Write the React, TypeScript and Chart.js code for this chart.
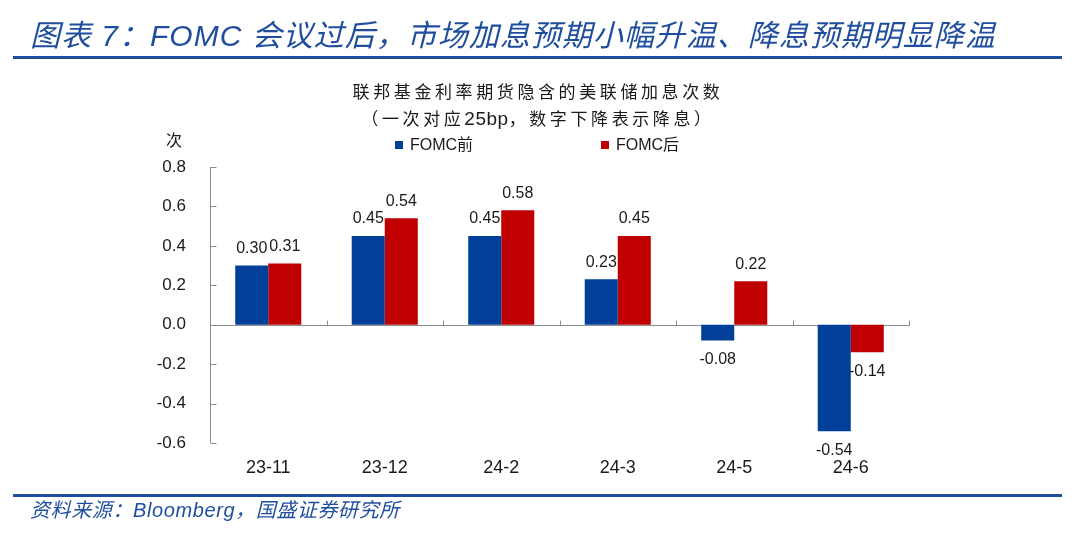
import React, { useEffect, useRef } from "react";
import { Chart, registerables } from "chart.js";

Chart.register(...registerables);

const categories = ["23-11", "23-12", "24-2", "24-3", "24-5", "24-6"];
const beforeFOMC = [0.3, 0.45, 0.45, 0.23, -0.08, -0.54];
const afterFOMC = [0.31, 0.54, 0.58, 0.45, 0.22, -0.14];
const seriesNames = ["FOMC前", "FOMC后"];
const seriesColors = ["#00409A", "#C00000"];
const yMin = -0.6;
const yMax = 0.8;
const yStep = 0.2;

const figureTitle = "图表 7：FOMC 会议过后，市场加息预期小幅升温、降息预期明显降温";
const chartTitle1 = "联邦基金利率期货隐含的美联储加息次数";
const chartTitle2a = "（一次对应";
const chartTitle2b = "25bp";
const chartTitle2c = "，数字下降表示降息）";
const yUnit = "次";
const sourceText = "资料来源：Bloomberg，国盛证券研究所";

const LATIN = "'Liberation Sans', 'Noto Sans CJK SC', sans-serif";
const AXIS_COLOR = "#8C8C8C";
const BRAND = "#1F4E9E";

const axisPlugin = {
  id: "customAxes",
  beforeDatasetsDraw(chart: any) {
    const { ctx, chartArea, scales } = chart;
    const x = scales.x;
    const y = scales.y;
    ctx.save();
    ctx.strokeStyle = AXIS_COLOR;
    ctx.lineWidth = 1;
    ctx.beginPath();
    const left = Math.round(chartArea.left) + 0.5;
    ctx.moveTo(left, y.getPixelForValue(yMax));
    ctx.lineTo(left, y.getPixelForValue(yMin));
    y.ticks.forEach((t: any) => {
      const py = Math.round(y.getPixelForValue(t.value)) + 0.5;
      ctx.moveTo(left, py);
      ctx.lineTo(left + 6, py);
    });
    const zy = Math.round(y.getPixelForValue(0)) + 0.5;
    ctx.moveTo(left, zy);
    ctx.lineTo(Math.round(chartArea.right) + 0.5, zy);
    const n = categories.length;
    const half = (x.getPixelForValue(1) - x.getPixelForValue(0)) / 2;
    for (let i = 0; i < n; i++) {
      const px = Math.round(x.getPixelForValue(i) + half) + 0.5;
      ctx.moveTo(px, zy);
      ctx.lineTo(px, zy - 5);
    }
    ctx.stroke();
    ctx.restore();
  },
};

const labelPlugin = {
  id: "valueLabels",
  afterDatasetsDraw(chart: any) {
    const { ctx } = chart;
    ctx.save();
    ctx.font = `16px ${LATIN}`;
    ctx.fillStyle = "#1A1A1A";
    ctx.textAlign = "center";
    ctx.textBaseline = "middle";
    chart.data.datasets.forEach((ds: any, di: number) => {
      const meta = chart.getDatasetMeta(di);
      meta.data.forEach((bar: any, i: number) => {
        const v = ds.data[i] as number;
        const yPos = v >= 0 ? bar.y - 17 : bar.y + 19;
        ctx.fillText(v.toFixed(2), bar.x, yPos);
      });
    });
    ctx.restore();
  },
};

export default function App() {
  const canvasRef = useRef<HTMLCanvasElement | null>(null);

  useEffect(() => {
    if (!canvasRef.current) return;
    const chart = new Chart(canvasRef.current, {
      type: "bar",
      data: {
        labels: categories,
        datasets: [
          { label: seriesNames[0], data: beforeFOMC, backgroundColor: seriesColors[0], borderWidth: 0 },
          { label: seriesNames[1], data: afterFOMC, backgroundColor: seriesColors[1], borderWidth: 0 },
        ],
      },
      options: {
        responsive: false,
        animation: false,
        devicePixelRatio: 1,
        layout: { padding: { top: 167, right: 171, bottom: 0, left: 0 } },
        datasets: { bar: { barPercentage: 1, categoryPercentage: 0.567 } },
        plugins: {
          legend: { display: false },
          title: { display: false },
          tooltip: { enabled: false },
        },
        scales: {
          x: {
            grid: { display: false, drawTicks: false },
            border: { display: false },
            ticks: { color: "#1A1A1A", font: { size: 18, family: LATIN }, padding: 14, maxRotation: 0 },
            afterFit: (s: any) => {
              s.height = 101;
            },
          },
          y: {
            min: yMin,
            max: yMax,
            grid: { display: false, drawTicks: false },
            border: { display: false },
            ticks: {
              stepSize: yStep,
              color: "#1A1A1A",
              font: { size: 17, family: LATIN },
              padding: 24,
              callback: (v: any) => Number(v).toFixed(1),
            },
            afterFit: (s: any) => {
              s.width = 210;
            },
          },
        },
      },
      plugins: [axisPlugin, labelPlugin],
    });
    return () => chart.destroy();
  }, []);

  const cjk = "'Noto Sans CJK SC', 'Liberation Sans', sans-serif";

  return (
    <div style={{ position: "fixed", left: 0, top: 0, width: 1080, height: 544, background: "#fff", overflow: "hidden" }}>
      <canvas ref={canvasRef} width={1080} height={544} style={{ position: "absolute", left: 0, top: 0, display: "block" }} />
      <div
        style={{
          position: "absolute", left: 30, top: 15, fontFamily: `'Liberation Sans', ${cjk}`, fontStyle: "italic",
          fontSize: 30, lineHeight: "42px", color: BRAND, whiteSpace: "nowrap", letterSpacing: 1,
        }}
      >
        {figureTitle}
      </div>
      <div style={{ position: "absolute", left: 13, top: 56, width: 1049, height: 3, background: BRAND }} />
      <div
        style={{
          position: "absolute", left: 0, width: 1076, top: 77, textAlign: "center", fontFamily: cjk, fontSize: 17,
          lineHeight: "27px", color: "#1A1A1A", letterSpacing: 3.6,
        }}
      >
        <div>{chartTitle1}</div>
        <div>
          {chartTitle2a}
          <span style={{ fontFamily: LATIN, fontSize: 19, letterSpacing: 0.5 }}>{chartTitle2b}</span>
          {chartTitle2c}
        </div>
      </div>
      <div style={{ position: "absolute", left: 166, top: 128, fontFamily: cjk, fontSize: 16, lineHeight: "22px", color: "#1A1A1A" }}>
        {yUnit}
      </div>
      <div style={{ position: "absolute", left: 395, top: 134, display: "flex", alignItems: "center", fontFamily: LATIN, fontSize: 16, lineHeight: "22px", color: "#1A1A1A", whiteSpace: "nowrap" }}>
        <span style={{ display: "inline-block", width: 8, height: 8, background: seriesColors[0], marginRight: 7 }} />
        <span>{seriesNames[0]}</span>
      </div>
      <div style={{ position: "absolute", left: 601, top: 134, display: "flex", alignItems: "center", fontFamily: LATIN, fontSize: 16, lineHeight: "22px", color: "#1A1A1A", whiteSpace: "nowrap" }}>
        <span style={{ display: "inline-block", width: 8, height: 8, background: seriesColors[1], marginRight: 7 }} />
        <span>{seriesNames[1]}</span>
      </div>
      <div style={{ position: "absolute", left: 13, top: 494, width: 1049, height: 3, background: BRAND }} />
      <div
        style={{
          position: "absolute", left: 30, top: 497, fontFamily: `'Liberation Sans', ${cjk}`, fontStyle: "italic",
          fontSize: 20, lineHeight: "26px", color: BRAND, whiteSpace: "nowrap", letterSpacing: 0.6,
        }}
      >
        {sourceText}
      </div>
    </div>
  );
}
